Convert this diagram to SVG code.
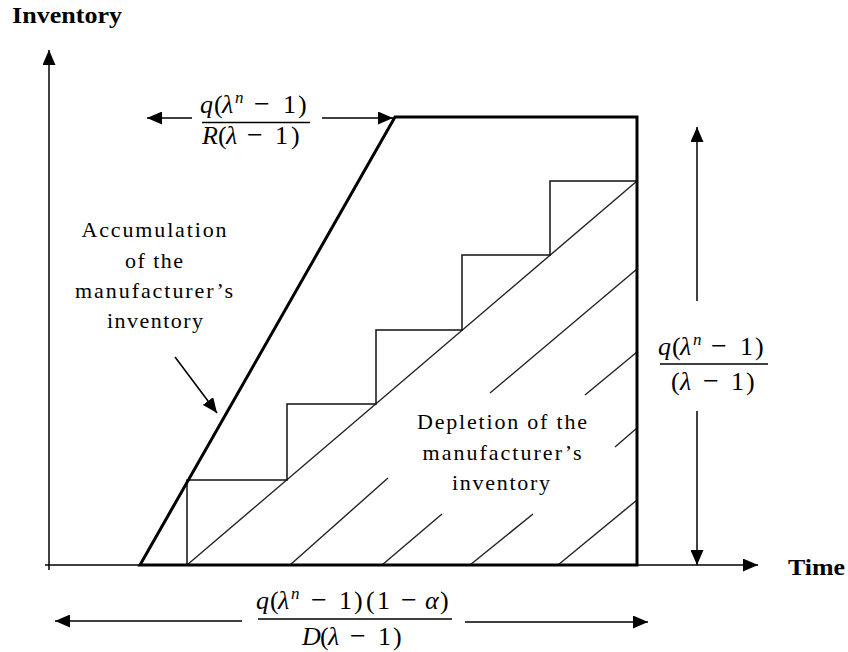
<svg xmlns="http://www.w3.org/2000/svg" width="848" height="652" viewBox="0 0 848 652">
<style>
.ax{stroke:#000;stroke-width:1.5;fill:none}
.thick{stroke:#000;stroke-width:3;fill:none;stroke-linejoin:miter}
.thin{stroke:#111;stroke-width:1.5;fill:none}
.hatch{stroke:#222;stroke-width:1.4;fill:none}
.arr{stroke:#000;stroke-width:1.5;fill:none;marker-end:url(#ah)}
.lbl{font-family:"Liberation Serif","Times New Roman",serif;font-size:22px;fill:#000}
.ttl{font-family:"Liberation Serif","Times New Roman",serif;font-size:24px;font-weight:bold;fill:#000}
.m{font-family:"Liberation Serif","Times New Roman",serif;font-size:26px;fill:#000}
.i{font-style:italic}
.sup{font-style:italic;font-size:17px}
.mn{font-size:28px}
.bar{stroke:#000;stroke-width:1.3}
</style>
<defs>
<marker id="ah" viewBox="0 0 10 10" refX="10" refY="5" markerUnits="userSpaceOnUse" markerWidth="15" markerHeight="13" orient="auto" preserveAspectRatio="none">
<path d="M0,0 L10,5 L0,10 z" fill="#000"/>
</marker>
</defs>

<g id="axes">
<line class="arr" x1="49" y1="570" x2="49" y2="50"/>
<line class="arr" x1="45" y1="565" x2="758" y2="565"/>
<text class="ttl" x="12" y="23" textLength="110" lengthAdjust="spacingAndGlyphs">Inventory</text>
<text class="ttl" x="788" y="575" textLength="57" lengthAdjust="spacingAndGlyphs">Time</text>
</g>

<g id="hatch">
<line class="hatch" x1="187" y1="565" x2="637" y2="181"/>
<line class="hatch" x1="290" y1="565" x2="388" y2="478"/>
<line class="hatch" x1="490" y1="393" x2="637" y2="269"/>
<line class="hatch" x1="382" y1="565" x2="442" y2="514"/>
<line class="hatch" x1="585" y1="395" x2="637" y2="352"/>
<line class="hatch" x1="470" y1="565" x2="533" y2="514"/>
<line class="hatch" x1="615" y1="447" x2="637" y2="428"/>
<line class="hatch" x1="558" y1="565" x2="637" y2="500"/>
</g>

<g id="stairs">
<path class="thin" d="M187,565 V480 H287 V404 H376 V330 H462 V255 H550 V181 H637"/>
</g>

<g id="inventory-shape">
<path class="thick" d="M140,565 L395,117 L637,117 L637,565 Z"/>
</g>

<g id="connectors">
<line class="arr" x1="192" y1="118" x2="147" y2="118"/>
<line class="arr" x1="322" y1="118" x2="393" y2="118"/>
<line class="arr" x1="697" y1="301" x2="697" y2="127"/>
<line class="arr" x1="697" y1="411" x2="697" y2="565"/>
<line class="arr" x1="242" y1="621" x2="55" y2="621"/>
<line class="arr" x1="465" y1="622" x2="648" y2="622"/>
<line class="arr" x1="175" y1="357" x2="217" y2="413"/>
</g>

<g id="label-accumulation">
<text class="lbl" text-anchor="middle" x="154" y="237" textLength="145" lengthAdjust="spacing">Accumulation</text>
<text class="lbl" text-anchor="middle" x="154" y="268" textLength="58" lengthAdjust="spacing">of the</text>
<text class="lbl" text-anchor="middle" x="154" y="298" textLength="158" lengthAdjust="spacing">manufacturer’s</text>
<text class="lbl" text-anchor="middle" x="155" y="328" textLength="96" lengthAdjust="spacing">inventory</text>
</g>

<g id="label-depletion">
<text class="lbl" text-anchor="middle" x="502" y="429" textLength="170" lengthAdjust="spacing">Depletion of the</text>
<text class="lbl" text-anchor="middle" x="502" y="460" textLength="159" lengthAdjust="spacing">manufacturer’s</text>
<text class="lbl" text-anchor="middle" x="501" y="490" textLength="98" lengthAdjust="spacing">inventory</text>
</g>

<g id="frac-top">
<text class="m" y="113"><tspan class="i" x="200">q</tspan><tspan x="214">(</tspan><tspan class="i" x="222">λ</tspan><tspan class="sup" x="235" dy="-10">n</tspan><tspan class="mn" x="254" dy="10">−</tspan><tspan x="283">1</tspan><tspan x="298">)</tspan></text>
<line class="bar" x1="202" y1="122.5" x2="310" y2="122.5"/>
<text class="m" y="144"><tspan class="i" x="202">R</tspan><tspan x="218">(</tspan><tspan class="i" x="226">λ</tspan><tspan class="mn" x="247">−</tspan><tspan x="275">1</tspan><tspan x="291">)</tspan></text>
</g>

<g id="frac-right">
<text class="m" y="355"><tspan class="i" x="658">q</tspan><tspan x="672">(</tspan><tspan class="i" x="680">λ</tspan><tspan class="sup" x="693" dy="-10">n</tspan><tspan class="mn" x="711" dy="10">−</tspan><tspan x="740">1</tspan><tspan x="755">)</tspan></text>
<line class="bar" x1="660" y1="364" x2="768" y2="364"/>
<text class="m" y="390"><tspan x="671">(</tspan><tspan class="i" x="680">λ</tspan><tspan class="mn" x="703">−</tspan><tspan x="731">1</tspan><tspan x="746">)</tspan></text>
</g>

<g id="frac-bottom">
<text class="m" y="609"><tspan class="i" x="256">q</tspan><tspan x="270">(</tspan><tspan class="i" x="278">λ</tspan><tspan class="sup" x="291" dy="-10">n</tspan><tspan class="mn" x="311" dy="10">−</tspan><tspan x="339">1</tspan><tspan x="354">)</tspan><tspan x="366">(</tspan><tspan x="377">1</tspan><tspan class="mn" x="401">−</tspan><tspan class="i" x="425">α</tspan><tspan x="440">)</tspan></text>
<line class="bar" x1="258" y1="619" x2="452" y2="619"/>
<text class="m" y="645"><tspan class="i" x="302">D</tspan><tspan x="320">(</tspan><tspan class="i" x="328">λ</tspan><tspan class="mn" x="350">−</tspan><tspan x="378">1</tspan><tspan x="393">)</tspan></text>
</g>
</svg>
